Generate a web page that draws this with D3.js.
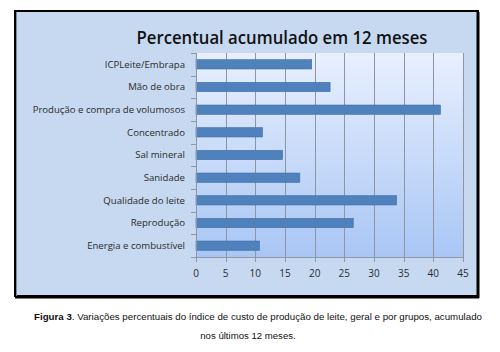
<!DOCTYPE html>
<html><head><meta charset="utf-8">
<script src="https://cdn.jsdelivr.net/npm/d3@7"></script>
<style>html,body{margin:0;padding:0;background:#fff;}svg{display:block;}</style>
</head><body>
<script>
const categories = ["ICPLeite/Embrapa","Mão de obra","Produção e compra de volumosos","Concentrado","Sal mineral","Sanidade","Qualidade do leite","Reprodução","Energia e combustível"];
const values = [19.5, 22.6, 41.2, 11.2, 14.6, 17.5, 33.8, 26.5, 10.7];
const xTicks = [0,5,10,15,20,25,30,35,40,45];
const title = "Percentual acumulado em 12 meses";
const captionBold = "Figura 3";
const captionLine1 = ". Variações percentuais do índice de custo de produção de leite, geral e por grupos, acumulado";
const captionLine2 = "nos últimos 12 meses.";

(function(){
const W = 500, H = 352;
const svg = d3.select("body").append("svg").attr("width", W).attr("height", H);
const defs = svg.append("defs");
const g1 = defs.append("linearGradient").attr("id","pg").attr("x1",0).attr("y1",0).attr("x2",0).attr("y2",1);
g1.append("stop").attr("offset","0%").attr("stop-color","#e8f0fe");
g1.append("stop").attr("offset","100%").attr("stop-color","#a9c6f4");

// outer frame
svg.append("rect").attr("x",15).attr("y",11).attr("width",463).attr("height",285)
  .attr("fill","#c6d9f1").attr("stroke","#000").attr("stroke-width",2);
svg.append("line").attr("x1",478).attr("x2",478).attr("y1",12).attr("y2",298).attr("stroke","#000").attr("stroke-width",3);
svg.append("line").attr("x1",15).attr("x2",479).attr("y1",297).attr("y2",297).attr("stroke","#000").attr("stroke-width",3);
svg.append("line").attr("x1",16.5).attr("x2",16.5).attr("y1",12).attr("y2",296).attr("stroke","#7f8a99").attr("stroke-width",1);

const pL = 196, pR = 463, pT = 53, pB = 257;
const x = d3.scaleLinear().domain([0,45]).range([pL,pR]);
const y = d3.scaleBand().domain(categories).range([pT,pB]).paddingInner(0.59).paddingOuter(0.295);
const yb = d3.scaleBand().domain(categories).range([pT,pB]);

svg.append("rect").attr("x",pL).attr("y",pT).attr("width",pR-pL).attr("height",pB-pT).attr("fill","url(#pg)");

// gridlines
svg.append("g").selectAll("line").data(xTicks.slice(1)).join("line")
  .attr("x1",d=>Math.round(x(d))+0.5).attr("x2",d=>Math.round(x(d))+0.5).attr("y1",pT).attr("y2",pB)
  .attr("stroke","#8e96a3").attr("stroke-width",1);

// bars
svg.append("g").selectAll("rect").data(values).join("rect")
  .attr("x",x(0)).attr("y",(d,i)=>y(categories[i]))
  .attr("width",d=>x(d)-x(0)).attr("height",y.bandwidth())
  .attr("fill","#4f81bd").attr("stroke","#3f6ea8").attr("stroke-width",0.6);

// axes lines
svg.append("line").attr("x1",pL+0.5).attr("x2",pL+0.5).attr("y1",pT).attr("y2",pB+0.5).attr("stroke","#8e96a3");
svg.append("line").attr("x1",pL).attr("x2",pR).attr("y1",pB+0.5).attr("y2",pB+0.5).attr("stroke","#8e96a3");
const bounds = categories.map(c=>yb(c)).concat([pB]);
svg.append("g").selectAll("line").data(bounds).join("line")
  .attr("x1",pL-5).attr("x2",pL).attr("y1",d=>Math.round(d)+0.5).attr("y2",d=>Math.round(d)+0.5).attr("stroke","#8e96a3");
svg.append("g").selectAll("line").data(xTicks).join("line")
  .attr("x1",d=>Math.round(x(d))+0.5).attr("x2",d=>Math.round(x(d))+0.5).attr("y1",pB).attr("y2",pB+5).attr("stroke","#8e96a3");

// labels
svg.append("g").selectAll("text").data(categories).join("text")
  .attr("x",185).attr("y",c=>yb(c)+yb.bandwidth()/2).attr("dy","0.35em")
  .attr("text-anchor","end").attr("font-family","Open Sans, sans-serif").attr("font-size",9.6)
  .attr("fill","#2b2b2b").text(c=>c);
svg.append("g").selectAll("text").data(xTicks).join("text")
  .attr("x",d=>x(d)).attr("y",273).attr("dy","0.35em").attr("text-anchor","middle")
  .attr("font-family","Open Sans, sans-serif").attr("font-size",10).attr("fill","#2b2b2b").text(d=>d);

svg.append("text").attr("x",282).attr("y",44).attr("text-anchor","middle")
  .attr("font-family","Open Sans, sans-serif").attr("font-weight",600).attr("font-size",18.5)
  .attr("fill","#111").attr("textLength",291).attr("lengthAdjust","spacingAndGlyphs").text(title);

// caption
const c1 = svg.append("text").attr("x",258).attr("y",320).attr("text-anchor","middle")
  .attr("font-family","Liberation Sans, Arial, sans-serif").attr("font-size",9.6).attr("fill","#111")
  .attr("textLength",448).attr("lengthAdjust","spacingAndGlyphs");
c1.append("tspan").attr("font-weight","bold").text(captionBold);
c1.append("tspan").text(captionLine1);
svg.append("text").attr("x",248).attr("y",339).attr("text-anchor","middle")
  .attr("font-family","Liberation Sans, Arial, sans-serif").attr("font-size",9.6).attr("fill","#111").text(captionLine2);
})();
</script>
</body></html>
